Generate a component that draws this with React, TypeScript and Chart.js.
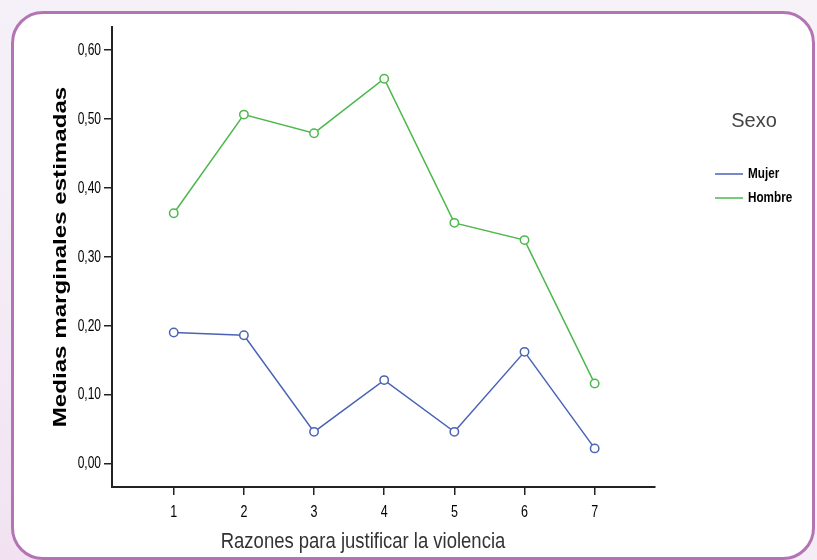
import React, { useEffect, useRef } from "react";
import { Chart, registerables } from "chart.js";

Chart.register(...registerables);

// ---- data ----
const categories = [1, 2, 3, 4, 5, 6, 7];
const mujer = [0.19, 0.186, 0.046, 0.121, 0.046, 0.162, 0.022];
const hombre = [0.363, 0.506, 0.479, 0.558, 0.349, 0.324, 0.116];
const yTicks = [0, 0.1, 0.2, 0.3, 0.4, 0.5, 0.6];
const seriesLabels = ["Mujer", "Hombre"];
const seriesColors = ["#4a63b5", "#4cb84c"];
const legendTitle = "Sexo";
const xTitle = "Razones para justificar la violencia";
const yTitle = "Medias marginales estimadas";

const SANS = "'Liberation Sans', Arial, sans-serif";

const fmt = (v: number) => v.toFixed(2).replace(".", ",");

function drawText(
  ctx: CanvasRenderingContext2D,
  text: string,
  x: number,
  y: number,
  font: string,
  sx: number,
  align: CanvasTextAlign,
  baseline: CanvasTextBaseline,
  color: string,
  rot = 0
) {
  ctx.save();
  ctx.fillStyle = color;
  ctx.translate(x, y);
  if (rot) ctx.rotate(rot);
  ctx.scale(sx, 1);
  ctx.font = font;
  ctx.textAlign = align;
  ctx.textBaseline = baseline;
  ctx.fillText(text, 0, 0);
  ctx.restore();
}

const decorPlugin = {
  id: "decor",
  afterDraw(chart: any) {
    const ctx = chart.ctx as CanvasRenderingContext2D;
    const area = chart.chartArea;
    const xs = chart.scales.x;
    const ys = chart.scales.y;

    // tick labels (condensed)
    yTicks.forEach((v) => {
      drawText(ctx, fmt(v), 101, ys.getPixelForValue(v) + 0.5, "16px " + SANS, 0.75, "right", "middle", "#000");
    });
    categories.forEach((c) => {
      drawText(ctx, String(c), xs.getPixelForValue(c), 517, "16px " + SANS, 0.78, "center", "alphabetic", "#000");
    });

    // y title (stretched along its length)
    drawText(ctx, yTitle, 61, (area.top + area.bottom) / 2, "bold 18px " + SANS, 1.34, "center", "middle", "#000", -Math.PI / 2);

    // x title (condensed)
    drawText(ctx, xTitle, 363, 548, "22px " + SANS, 0.84, "center", "alphabetic", "#333");

    // legend
    drawText(ctx, legendTitle, 754, 121, "20px " + SANS, 1, "center", "middle", "#444");
    chart.data.datasets.forEach((d: any, i: number) => {
      const y = 174 + i * 24;
      ctx.save();
      ctx.strokeStyle = d.borderColor;
      ctx.lineWidth = 1.5;
      ctx.beginPath();
      ctx.moveTo(715, y);
      ctx.lineTo(743, y);
      ctx.stroke();
      ctx.restore();
      drawText(ctx, d.label, 748, y, "bold 15px " + SANS, 0.78, "left", "middle", "#000");
    });
  },
};

export default function App() {
  const ref = useRef<HTMLCanvasElement | null>(null);

  useEffect(() => {
    if (!ref.current) return;
    const mk = (vals: number[], i: number) => ({
      label: seriesLabels[i],
      data: categories.map((c, k) => ({ x: c, y: vals[k] })),
      borderColor: seriesColors[i],
      backgroundColor: "#ffffff",
      borderWidth: 1.5,
      pointRadius: 4.2,
      pointBorderWidth: 1.5,
      pointBackgroundColor: "#ffffff",
      pointBorderColor: seriesColors[i],
      tension: 0,
    });
    const chart = new Chart(ref.current, {
      type: "line",
      data: { datasets: [mk(mujer, 0), mk(hombre, 1)] },
      options: {
        animation: false,
        responsive: false,
        layout: { padding: { left: 0, top: 27, right: 162, bottom: 0 } },
        plugins: { legend: { display: false }, tooltip: { enabled: false } },
        scales: {
          x: {
            type: "linear",
            min: 0.12,
            max: 7.86,
            afterBuildTicks: (s: any) => {
              s.ticks = categories.map((v) => ({ value: v }));
            },
            afterFit: (s: any) => {
              s.height = 73;
            },
            grid: { drawOnChartArea: false, drawTicks: true, tickLength: 8, color: "#222", lineWidth: 1.5 },
            border: { display: true, color: "#222", width: 2 },
            ticks: { display: false },
          },
          y: {
            type: "linear",
            min: -0.034,
            max: 0.633,
            afterBuildTicks: (s: any) => {
              s.ticks = yTicks.map((v) => ({ value: v }));
            },
            afterFit: (s: any) => {
              s.width = 112;
            },
            grid: { drawOnChartArea: false, drawTicks: true, tickLength: 8, color: "#222", lineWidth: 1.5 },
            border: { display: true, color: "#222", width: 2 },
            ticks: { display: false },
          },
        },
      },
      plugins: [decorPlugin],
    } as any);
    return () => chart.destroy();
  }, []);

  return (
    <div
      style={{
        position: "absolute",
        left: 0,
        top: 0,
        width: 817,
        height: 560,
        overflow: "hidden",
        background: "linear-gradient(20deg, #f2e2f1 0%, #f5eff7 45%, #f6f3f8 100%)",
      }}
    >
      <div
        style={{
          position: "absolute",
          left: 11,
          top: 11,
          width: 804,
          height: 549,
          boxSizing: "border-box",
          border: "3px solid #b374b3",
          borderRadius: 32,
          background: "#ffffff",
        }}
      />
      <canvas
        ref={ref}
        width={817}
        height={560}
        style={{ position: "absolute", left: 0, top: 0, width: 817, height: 560 }}
      />
    </div>
  );
}
